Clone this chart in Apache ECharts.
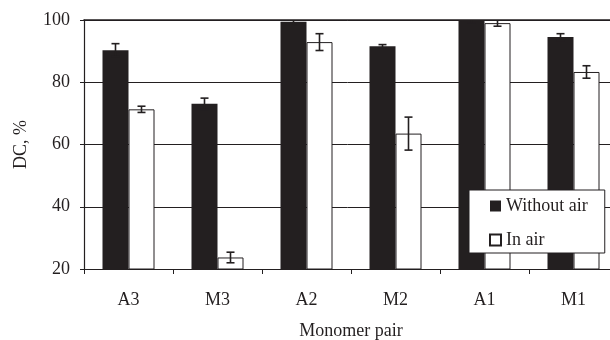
<!DOCTYPE html>
<html>
<head>
<meta charset="utf-8">
<script src="https://cdn.jsdelivr.net/npm/echarts@6/dist/echarts.min.js"></script>
<style>
html,body{margin:0;padding:0;background:#fff;}
#chart{width:610px;height:340px;}
</style>
</head>
<body>
<div id="chart"></div>
<script>
const categories = ['A3', 'M3', 'A2', 'M2', 'A1', 'M1'];
const withoutAir = [90.3, 73.1, 99.4, 91.6, 100, 94.5];
const withoutAirErr = [2.1, 1.8, 1.0, 0.5, 1.0, 1.1];
const inAir = [71.3, 23.7, 92.9, 63.5, 99.0, 83.3];
const inAirErr = [1.0, 1.7, 2.7, 5.3, 1.0, 2.0];
const yMin = 20, yMax = 100, yStep = 20;

const FONT = 'Liberation Serif';
const INK = '#231f20';
const BAR_W = 26;
const FS = 18;

function errSeries(values, errs, offset) {
  return {
    type: 'custom',
    xAxisIndex: 0, yAxisIndex: 0,
    data: values.map((v, i) => [i, v, errs[i]]),
    encode: { x: 0, y: 1 },
    clip: true,
    z: 10,
    silent: true,
    renderItem: function (params, api) {
      const i = api.value(0), v = api.value(1), e = api.value(2);
      const hi = api.coord([i, v + e]);
      const lo = api.coord([i, v - e]);
      const x = hi[0] + offset;
      const cw = 4;
      const st = { stroke: INK, lineWidth: 1.6 };
      return {
        type: 'group',
        children: [
          { type: 'line', shape: { x1: x, y1: hi[1], x2: x, y2: lo[1] }, style: st },
          { type: 'line', shape: { x1: x - cw, y1: hi[1], x2: x + cw, y2: hi[1] }, style: st },
          { type: 'line', shape: { x1: x - cw, y1: lo[1], x2: x + cw, y2: lo[1] }, style: st }
        ]
      };
    }
  };
}

const chart = echarts.init(document.getElementById('chart'), null, { renderer: 'canvas' });
chart.setOption({
  backgroundColor: '#fff',
  animation: false,
  textStyle: { fontFamily: FONT, color: INK },
  grid: { left: 84, top: 20, right: -8, bottom: 71, containLabel: false, outerBoundsMode: 'none' },
  legend: {
    data: ['Without air', 'In air'],
    orient: 'vertical',
    left: 469, top: 190,
    backgroundColor: '#fff',
    borderColor: INK, borderWidth: 1, borderRadius: 0,
    padding: [6, 17, 3, 20],
    itemWidth: 11, itemHeight: 11, itemGap: 14,
    icon: 'rect',
    textStyle: { fontFamily: FONT, fontSize: FS, color: INK, lineHeight: 20 }
  },
  xAxis: [{
    type: 'category',
    data: categories,
    name: 'Monomer pair',
    nameLocation: 'middle',
    nameGap: 53,
    nameTextStyle: { fontFamily: FONT, fontSize: FS, color: INK },
    axisLine: { show: true, lineStyle: { color: INK, width: 1.2 } },
    axisTick: { show: true, length: 5, lineStyle: { color: INK } },
    axisLabel: { fontFamily: FONT, fontSize: FS, color: INK, margin: 22 }
  }, {
    type: 'category',
    data: categories,
    position: 'top',
    axisLine: { show: true, lineStyle: { color: INK, width: 1.6 } },
    axisTick: { show: false },
    axisLabel: { show: false }
  }],
  yAxis: {
    type: 'value',
    min: yMin, max: yMax, interval: yStep,
    name: 'DC, %',
    nameLocation: 'middle',
    nameGap: 54,
    nameRotate: 90,
    nameTextStyle: { fontFamily: FONT, fontSize: FS, color: INK },
    axisLine: { show: true, lineStyle: { color: INK, width: 1.2 } },
    axisTick: { show: true, length: 4, lineStyle: { color: INK } },
    axisLabel: { fontFamily: FONT, fontSize: FS, color: INK, margin: 14 },
    splitLine: { show: true, lineStyle: { color: INK, width: 1 } }
  },
  series: [
    {
      name: 'Without air', type: 'bar', data: withoutAir,
      barWidth: BAR_W, barGap: 0,
      itemStyle: { color: INK, borderColor: INK, borderWidth: 0 }
    },
    {
      name: 'In air', type: 'bar', data: inAir,
      barWidth: BAR_W, barGap: 0,
      itemStyle: { color: '#fff', borderColor: INK, borderWidth: 1 }
    },
    errSeries(withoutAir, withoutAirErr, -BAR_W / 2),
    errSeries(inAir, inAirErr, BAR_W / 2)
  ]
});
</script>
</body>
</html>
